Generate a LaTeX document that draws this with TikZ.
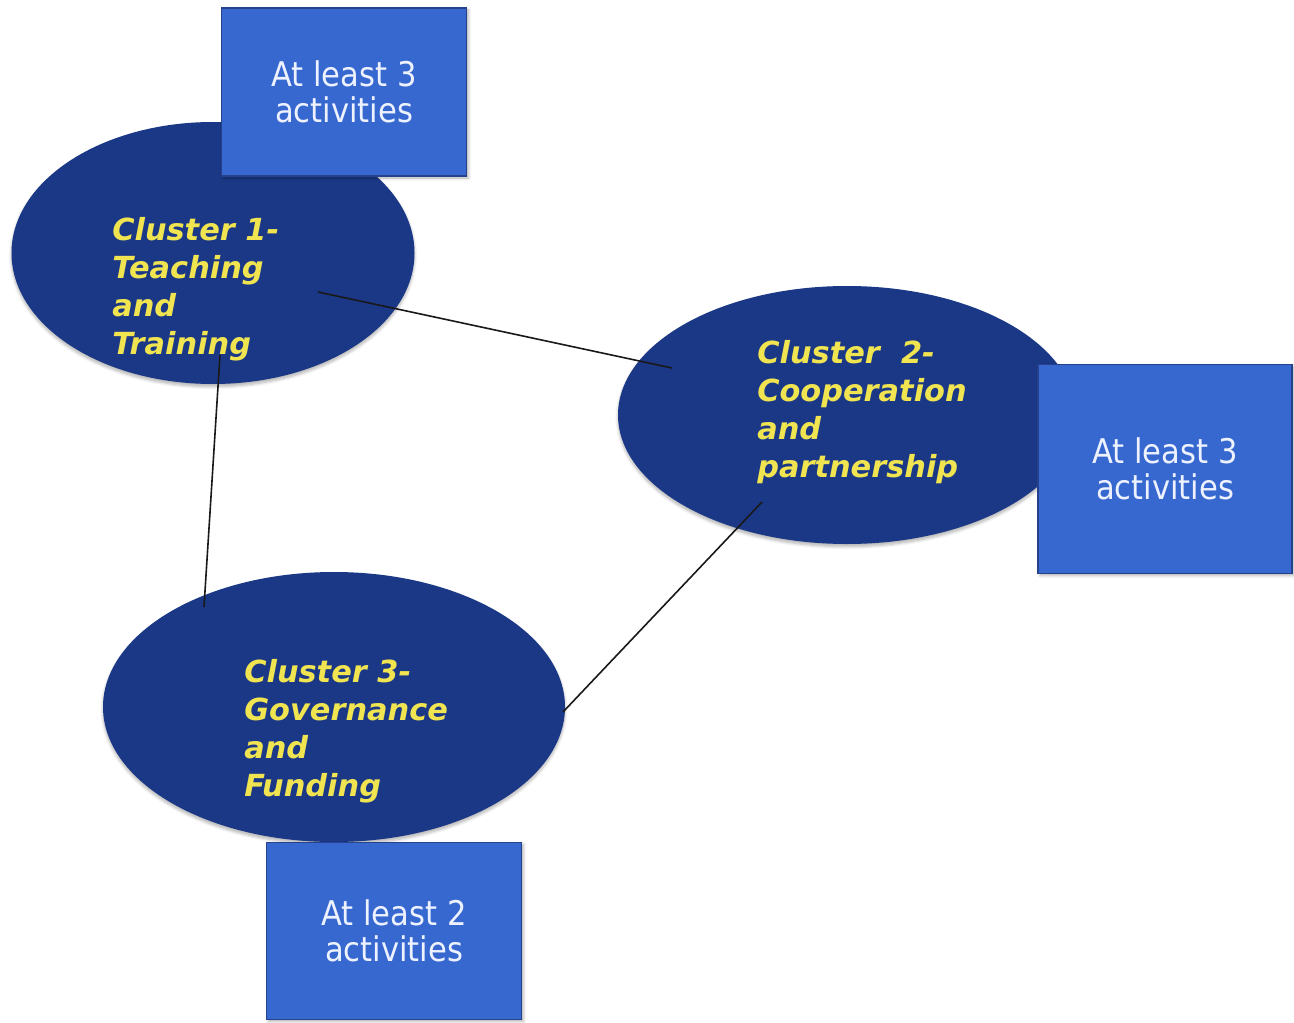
\documentclass[tikz,border=0pt]{standalone}
\usepackage{fontspec}
\setmainfont{DejaVu Sans}
\newfontfamily\boxfont{DejaVu Sans Condensed}
\usetikzlibrary{shapes.geometric,shadows.blur}
\definecolor{navy}{RGB}{27,56,135}
\definecolor{boxblue}{RGB}{54,104,208}
\definecolor{boxedge}{RGB}{38,66,140}
\definecolor{clyellow}{RGB}{240,228,80}
\definecolor{boxtext}{RGB}{238,242,255}
\tikzset{
  cluster/.style={ellipse, fill=navy, draw=none, inner sep=0pt, blur shadow={shadow blur steps=6, shadow xshift=0pt, shadow yshift=-2pt, shadow opacity=30}},
  cltext/.style={anchor=west, align=left, text=clyellow, font=\fontsize{22.8}{28.5}\selectfont\bfseries\itshape, inner sep=0pt},
  actbox/.style={rectangle, fill=boxblue, draw=boxedge, line width=1.2pt, inner sep=0pt, align=center, text=boxtext, font=\boxfont\fontsize{25.5}{27}\selectfont, blur shadow={shadow blur steps=4, shadow xshift=1.5pt, shadow yshift=-1.5pt, shadow opacity=30}},
  link/.style={draw=black!90, line width=1.2pt}
}
\begin{document}
\begin{tikzpicture}[x=0.75pt, y=-0.75pt]
\useasboundingbox (0,0) rectangle (1294,1023);
% ellipses
\node[cluster, minimum width=403*0.75pt, minimum height=262*0.75pt] (e1) at (213,253) {};
\node[cluster, minimum width=458*0.75pt, minimum height=258*0.75pt] (e2) at (847,415) {};
\node[cluster, minimum width=462*0.75pt, minimum height=270*0.75pt] (e3) at (334,707) {};
% connector end points
\coordinate (p1) at (318,292);
\coordinate (p2) at (672,368);
\coordinate (p3) at (220,355);
\coordinate (p4) at (204,607);
\coordinate (p5) at (563,712);
\coordinate (p6) at (762,502);
\draw[link] (p1) -- (p2);
\draw[link] (p3) -- (p4);
\draw[link] (p5) -- (p6);
% cluster texts
\node[cltext] (t1) at (112,289) {Cluster 1-\\Teaching\\and\\Training};
\node[cltext] (t2) at (757,412) {Cluster\ \ 2-\\Cooperation\\and\\partnership};
\node[cltext] (t3) at (244,731) {Cluster 3-\\Governance\\and\\Funding};
% activity boxes
\node[actbox, minimum width=245*0.75pt, minimum height=168*0.75pt] (b1) at (344,92) {At least 3\\activities};
\node[actbox, minimum width=254*0.75pt, minimum height=209*0.75pt] (b2) at (1165,469) {At least 3\\activities};
\node[actbox, minimum width=255*0.75pt, minimum height=177*0.75pt] (b3) at (394,931) {At least 2\\activities};
\end{tikzpicture}
\end{document}
